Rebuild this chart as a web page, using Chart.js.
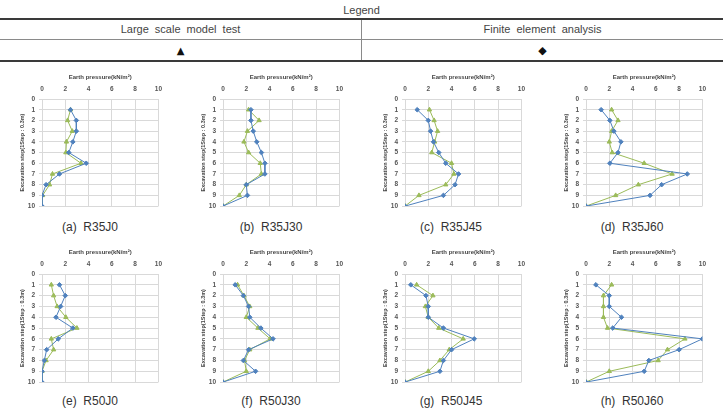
<!DOCTYPE html>
<html>
<head>
<meta charset="utf-8">
<script src="https://cdn.jsdelivr.net/npm/chart.js@4.4.1/dist/chart.umd.min.js"></script>
<style>
    body { margin: 0; width: 723px; height: 408px; background: #fff; position: relative; overflow: hidden;
           font-family: "Liberation Sans", Arial, sans-serif; color: #333; }
    .abs { position: absolute; }
    .txt { text-align: center; white-space: pre; }
    canvas { position: absolute; }
</style>
</head>
<body>
<!-- legend table -->
<div class="abs txt" style="left:0;top:3px;width:723px;font-size:11px;line-height:14px;color:#444;">Legend</div>
<div class="abs" style="left:0;top:18px;width:723px;height:2px;background:#3a3a3a;"></div>
<div class="abs" style="left:0;top:39px;width:723px;height:1px;background:#8a8a8a;"></div>
<div class="abs" style="left:0;top:60px;width:723px;height:2px;background:#3a3a3a;"></div>
<div class="abs" style="left:361px;top:20px;width:1px;height:40px;background:#8a8a8a;"></div>
<div class="abs txt" style="left:0;top:22px;width:361px;font-size:11px;line-height:15px;word-spacing:3px;color:#444;">Large scale model test</div>
<div class="abs txt" style="left:362px;top:22px;width:361px;font-size:11px;line-height:15px;word-spacing:3px;color:#444;">Finite element analysis</div>
<div class="abs txt" style="left:0;top:43px;width:361px;font-family:'DejaVu Sans';font-size:10px;line-height:15px;color:#111;">▲</div>
<div class="abs txt" style="left:362px;top:43px;width:361px;font-family:'DejaVu Sans';font-size:11px;line-height:15px;color:#111;">◆</div>

<canvas id="c1" width="160" height="147" style="left:8px;top:67px;"></canvas>
<canvas id="c2" width="160" height="147" style="left:189px;top:67px;"></canvas>
<canvas id="c3" width="160" height="147" style="left:371px;top:67px;"></canvas>
<canvas id="c4" width="160" height="147" style="left:552px;top:67px;"></canvas>
<canvas id="c5" width="160" height="148" style="left:8px;top:242px;"></canvas>
<canvas id="c6" width="160" height="148" style="left:189px;top:242px;"></canvas>
<canvas id="c7" width="160" height="148" style="left:371px;top:242px;"></canvas>
<canvas id="c8" width="160" height="148" style="left:552px;top:242px;"></canvas>

<div class="abs txt" style="left:0;top:219px;width:180px;font-size:12px;line-height:16px;">(a)  R35J0</div>
<div class="abs txt" style="left:181px;top:219px;width:180px;font-size:12px;line-height:16px;">(b)  R35J30</div>
<div class="abs txt" style="left:361px;top:219px;width:180px;font-size:12px;line-height:16px;">(c)  R35J45</div>
<div class="abs txt" style="left:542px;top:219px;width:180px;font-size:12px;line-height:16px;">(d)  R35J60</div>
<div class="abs txt" style="left:0;top:393px;width:180px;font-size:12px;line-height:16px;">(e)  R50J0</div>
<div class="abs txt" style="left:181px;top:393px;width:180px;font-size:12px;line-height:16px;">(f)  R50J30</div>
<div class="abs txt" style="left:361px;top:393px;width:180px;font-size:12px;line-height:16px;">(g)  R50J45</div>
<div class="abs txt" style="left:542px;top:393px;width:180px;font-size:12px;line-height:16px;">(h)  R50J60</div>

<script>
// excavation steps (y) and earth pressure in kN/m2 (x)
const steps = [1, 2, 3, 4, 5, 6, 7, 8, 9, 10];

const r35j0Test  = [2.45, 2.2, 2.6, 2.1, 2.05, 3.35, 0.9, 0.65, 0.05, 0];
const r35j0Fea   = [2.45, 2.95, 2.95, 2.65, 2.3, 3.8, 1.5, 0.35, 0, 0];
const r35j30Test = [2.2, 3.1, 2.1, 1.8, 2.2, 3.2, 3.3, 2.0, 1.4, 0];
const r35j30Fea  = [2.4, 2.4, 2.6, 2.9, 3.3, 3.6, 3.6, 2.0, 2.1, 0];
const r35j45Test = [2.1, 2.5, 2.8, 2.55, 2.3, 4.0, 4.2, 3.5, 1.2, 0];
const r35j45Fea  = [1.05, 2.0, 2.2, 2.45, 2.9, 3.5, 4.6, 4.3, 3.3, 0];
const r35j60Test = [2.2, 2.75, 2.2, 2.0, 2.25, 5.0, 7.4, 4.5, 2.55, 0];
const r35j60Fea  = [1.3, 2.05, 2.4, 3.0, 2.75, 2.05, 8.7, 6.5, 5.5, 0];
const r50j0Test  = [0.8, 1.0, 1.3, 2.05, 3.0, 0.8, 1.0, 0.35, 0, 0];
const r50j0Fea   = [1.5, 2.0, 1.6, 1.2, 2.65, 1.4, 0.4, 0.2, 0, 0];
const r50j30Test = [1.25, 1.8, 2.3, 2.0, 3.0, 4.05, 2.3, 1.85, 2.0, 0];
const r50j30Fea  = [1.05, 1.75, 2.2, 2.3, 3.25, 4.3, 2.2, 1.75, 2.8, 0];
const r50j45Test = [1.0, 2.4, 1.75, 2.0, 2.9, 5.0, 3.8, 3.0, 2.0, 0];
const r50j45Fea  = [0.5, 1.8, 2.0, 2.0, 3.3, 5.95, 4.0, 3.3, 3.0, 0];
const r50j60Test = [2.2, 1.5, 1.5, 1.5, 1.85, 8.5, 7.0, 6.2, 2.0, 0];
const r50j60Fea  = [0.85, 2.0, 2.0, 3.05, 2.3, 10.0, 8.0, 5.4, 5.0, 0];

const blue = "#4f81bd";
const green = "#9bbb59";
const gridColor = "#d9d9d9";
const tickFont = { family: "Liberation Sans", size: 6.5, weight: "bold" };
const titleFont = { family: "Liberation Sans", size: 6, weight: "bold" };

const toPoints = (vals) => vals.map((v, i) => ({ x: v, y: steps[i] }));

function drawPanel(id, testVals, feaVals) {
    const ctx = document.getElementById(id);
    return new Chart(ctx, {
        type: "scatter",
        data: {
            datasets: [
                {
                    label: "Finite element analysis",
                    data: toPoints(feaVals),
                    showLine: true,
                    borderColor: blue,
                    backgroundColor: blue,
                    borderWidth: 1,
                    pointStyle: "rectRot",
                    pointRadius: 2.3,
                },
                {
                    label: "Large scale model test",
                    data: toPoints(testVals),
                    showLine: true,
                    borderColor: green,
                    backgroundColor: green,
                    borderWidth: 1,
                    pointStyle: "triangle",
                    pointRadius: 2.5,
                },
            ],
        },
        options: {
            responsive: false,
            animation: false,
            layout: { padding: { left: 0, top: 0, right: 8, bottom: 6 } },
            plugins: { legend: { display: false }, tooltip: { enabled: false } },
            scales: {
                x: {
                    type: "linear",
                    position: "top",
                    min: 0,
                    max: 10,
                    ticks: { stepSize: 2, autoSkip: false, maxRotation: 0, padding: 6, font: tickFont, color: "#555" },
                    grid: { color: gridColor, drawTicks: false },
                    border: { color: gridColor },
                    title: {
                        display: true,
                        text: "Earth pressure(kN/m²)",
                        font: titleFont,
                        color: "#444",
                        padding: { top: 6.7, bottom: 0 },
                    },
                    afterFit: (s) => { s.height = 32; },
                },
                y: {
                    type: "linear",
                    reverse: true,
                    min: 0,
                    max: 10,
                    ticks: { stepSize: 1, autoSkip: false, padding: 4, font: tickFont, color: "#555" },
                    grid: { color: gridColor, tickLength: 3 },
                    border: { color: gridColor },
                    title: {
                        display: true,
                        text: "Excavation step(1Step : 0.3m)",
                        font: { family: "Liberation Sans", size: 5.5, weight: "bold" },
                        color: "#444",
                        padding: { top: 11.5, bottom: 0 },
                    },
                    afterFit: (s) => { s.width = 34; },
                },
            },
        },
    });
}

drawPanel("c1", r35j0Test, r35j0Fea);
drawPanel("c2", r35j30Test, r35j30Fea);
drawPanel("c3", r35j45Test, r35j45Fea);
drawPanel("c4", r35j60Test, r35j60Fea);
drawPanel("c5", r50j0Test, r50j0Fea);
drawPanel("c6", r50j30Test, r50j30Fea);
drawPanel("c7", r50j45Test, r50j45Fea);
drawPanel("c8", r50j60Test, r50j60Fea);
</script>
</body>
</html>
